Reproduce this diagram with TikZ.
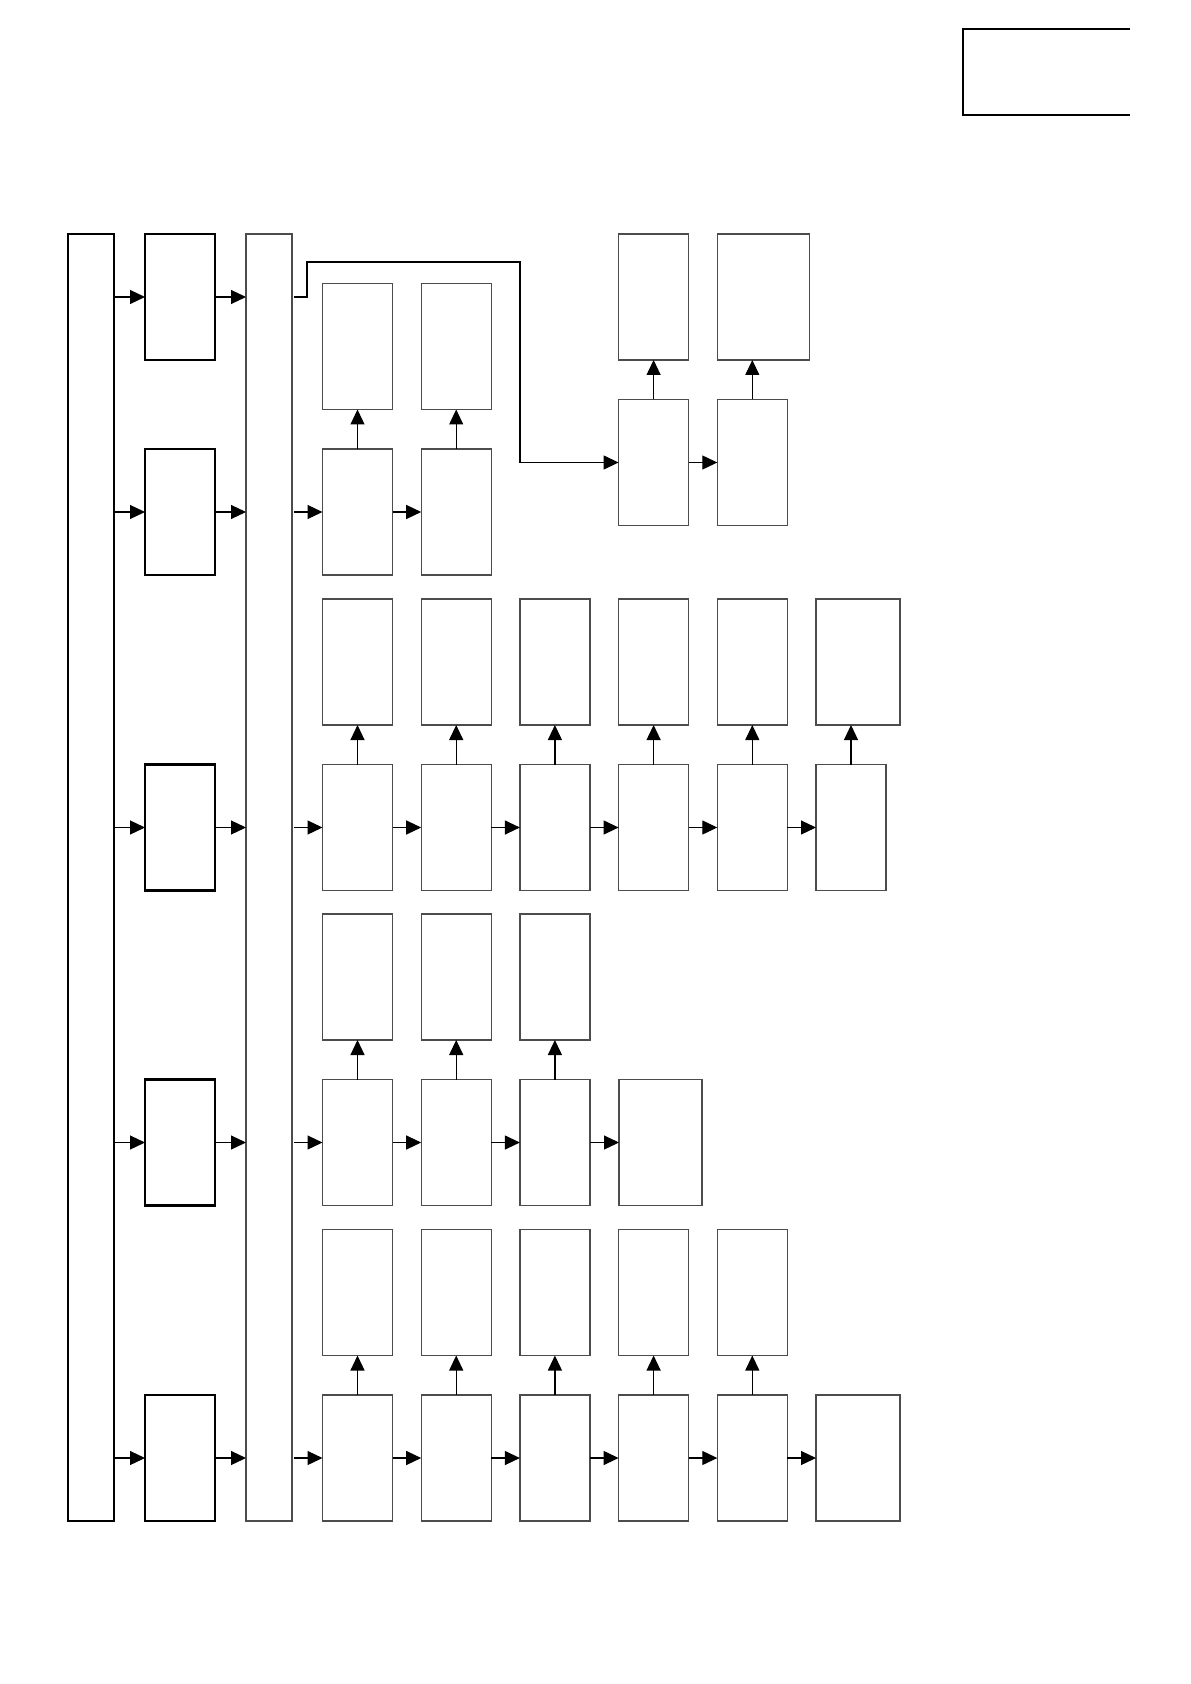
\documentclass[tikz,border=0pt]{standalone}
\usepackage{tikz}
\usetikzlibrary{arrows.meta,positioning,calc}

\begin{document}
\begin{tikzpicture}[x=0.5pt,y=-0.5pt,
    box/.style={draw=black!70,line width=0.7pt,minimum width=35pt,minimum height=63pt,inner sep=0pt,outer sep=0pt},
    stage/.style={box,draw=black,line width=1.1pt},
    rail/.style={box,minimum width=23pt,minimum height=643.5pt},
    link/.style={-{Triangle[length=7.5pt,width=7pt]},line width=0.6pt}]
    \useasboundingbox (0,0) rectangle (1190,1684);

    % corner mark
    \draw[line width=1.1pt] (1130,29) -| (963,115) -- (1130,115);

    % rails
    \node[rail,draw=black,line width=1.1pt] (feed) at (91,877.5) {};
    \node[rail] (bus) at (269,877.5) {};

    % stages
    \foreach \r/\y in {1/297,2/512,3/827.5,4/1142.5,5/1458} {
        \node[stage] (s\r) at (180,\y) {};
        \draw[link] (feed.east |- s\r.west) -- (s\r.west);
        \draw[link] (s\r.east) -- (s\r.east -| bus.west);
    }

    % row a
    \foreach \i/\w in {1/35,2/35} {
        \pgfmathsetmacro{\cx}{357.5+98.7*(\i-1)}
        \node[box,anchor=west] (a\i) at (\cx-35,512) {};
        \node[box,anchor=west,minimum width=\w pt] (at\i) at (\cx-35,346.5) {};
        \draw[link] (a\i.north) -- (a\i.north |- at\i.south);
    }
    \draw[link] ([xshift=1pt]bus.east |- a1.west) -- (a1.west);
    \draw[link] (a1.east) -- (a2.west);

    % row g (reached from the first stage)
    \foreach \i/\w in {1/35,2/46} {
        \pgfmathsetmacro{\cx}{357.5+98.7*(\i+2)}
        \node[box,anchor=west] (g\i) at (\cx-35,462.5) {};
        \node[box,anchor=west,minimum width=\w pt] (gt\i) at (\cx-35,297) {};
        \draw[link] (g\i.north) -- (g\i.north |- gt\i.south);
    }
    \draw[link] (g1.east) -- (g2.west);
    \coordinate (bend) at (520,262);
    \draw[link] ([xshift=1pt]bus.east |- s1.east) -- ++(13,0) |- (bend) |- (g1.west);

    % row b
    \foreach \i/\w in {1/35,2/35,3/35,4/35,5/35,6/42} {
        \pgfmathsetmacro{\cx}{357.5+98.7*(\i-1)}
        \node[box,anchor=west] (b\i) at (\cx-35,827.5) {};
        \node[box,anchor=west,minimum width=\w pt] (bt\i) at (\cx-35,662) {};
        \draw[link] (b\i.north) -- (b\i.north |- bt\i.south);
    }
    \draw[link] ([xshift=1pt]bus.east |- b1.west) -- (b1.west);
    \foreach \i [count=\j from 2] in {1,...,5}
        \draw[link] (b\i.east) -- (b\j.west);

    % row c
    \foreach \i in {1,2,3} {
        \pgfmathsetmacro{\cx}{357.5+98.7*(\i-1)}
        \node[box,anchor=west] (c\i) at (\cx-35,1142.5) {};
        \node[box,anchor=west] (ct\i) at (\cx-35,977) {};
        \draw[link] (c\i.north) -- (c\i.north |- ct\i.south);
    }
    \node[box,anchor=west,minimum width=41.5pt] (c4) at (619,1142.5) {};
    \draw[link] ([xshift=1pt]bus.east |- c1.west) -- (c1.west);
    \foreach \i [count=\j from 2] in {1,...,3}
        \draw[link] (c\i.east) -- (c\j.west);

    % row d
    \foreach \i in {1,...,5} {
        \pgfmathsetmacro{\cx}{357.5+98.7*(\i-1)}
        \node[box,anchor=west] (d\i) at (\cx-35,1458) {};
        \node[box,anchor=west] (dt\i) at (\cx-35,1292.5) {};
        \draw[link] (d\i.north) -- (d\i.north |- dt\i.south);
    }
    \node[box,anchor=west,minimum width=42pt] (d6) at (816,1458) {};
    \draw[link] ([xshift=1pt]bus.east |- d1.west) -- (d1.west);
    \foreach \i [count=\j from 2] in {1,...,5}
        \draw[link] (d\i.east) -- (d\j.west);
\end{tikzpicture}
\end{document}
